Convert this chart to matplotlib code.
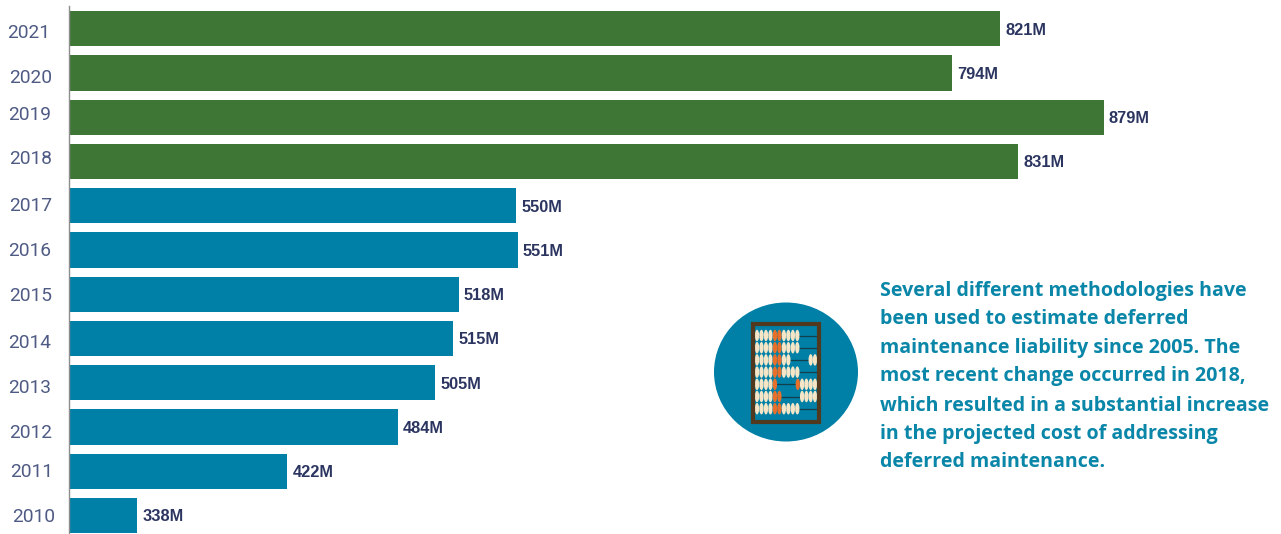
import matplotlib
matplotlib.use("Agg")
import matplotlib.pyplot as plt
from matplotlib.patches import Ellipse, Rectangle

W, H = 1281, 534
years = ["2021", "2020", "2019", "2018", "2017", "2016", "2015", "2014", "2013", "2012", "2011", "2010"]
values = [821, 794, 879, 831, 550, 551, 518, 515, 505, 484, 422, 338]
groups = ["new"] * 4 + ["old"] * 8
group_colors = {"new": "#3E7636", "old": "#0080A6"}
note_lines = [
    "Several different methodologies have",
    "been used to estimate deferred",
    "maintenance liability since 2005. The",
    "most recent change occurred in 2018,",
    "which resulted in a substantial increase",
    "in the projected cost of addressing",
    "deferred maintenance.",
]
# Hand-placed year labels in the original: (right edge px, vertical px)
year_label_x = [50, 52, 51, 52, 52, 51, 52, 51, 51, 52, 53, 55]
year_label_y = [33, 78, 115, 159, 206, 251, 296, 343, 388, 433, 472, 517]
note_y = [291, 319, 348, 376, 406, 434, 462]
# Abacus rows: left beads and right beads, c = cream, o = orange
abacus_rows = [
    ("ccccoocccc", ""),
    ("ccccoocccc", ""),
    ("ccccoocc", "cc"),
    ("ccccoocccc", ""),
    ("cccco", "occcc"),
    ("ccccoo", "cccc"),
    ("ccccoocccc", ""),
]
abacus_colors = {"c": "#F6E6C8", "o": "#E8702A"}

fig = plt.figure(figsize=(W / 100, H / 100), dpi=100, facecolor="white")

# Bar axes: rows are 44.25 px apart, value axis starts at 300
left, right = 69.0, 1200
scale = 1.787
top_row, step = 28.7, 44.25
ax = fig.add_axes([left / W, 0, (right - left) / W, (H - 6) / H])
ax.set_xlim(300, 300 + (right - left) / scale)
ax.set_ylim((H - top_row) / step, (6 - top_row) / step)
ypos = list(range(len(years)))
ax.barh(ypos, values, height=35.2 / step,
        color=[group_colors[g] for g in groups], left=0, zorder=2)
for s in ("top", "right", "bottom"):
    ax.spines[s].set_visible(False)
ax.spines["left"].set_color("#8E8E8E")
ax.spines["left"].set_linewidth(1.0)
ax.set_xticks([])
ax.set_yticks([])
for y, v in zip(ypos, values):
    ax.annotate(f"{v}M", (v, y), xytext=(3.8, -1), textcoords="offset points",
                va="center", ha="left", fontsize=11.8, fontweight="bold",
                family="Liberation Sans", color="#2B3560")

# Overlay in pixel coordinates for free text and the icon
ov = fig.add_axes([0, 0, 1, 1])
ov.set_xlim(0, W)
ov.set_ylim(H, 0)
ov.axis("off")
ov.patch.set_alpha(0)
for t, x, y in zip(years, year_label_x, year_label_y):
    ov.text(x, y, t, ha="right", va="center", fontsize=13.8, family="Roboto",
            fontweight="regular", color="#4F5B84")
for t, y in zip(note_lines, note_y):
    ov.text(880, y, t, ha="left", va="center", fontsize=14.17, family="Open Sans",
            fontweight="bold", color="#0A86A8")

ov.add_patch(Ellipse((786, 372), 144, 139, color="#0080A6", lw=0, zorder=1))
ov.add_patch(Rectangle((752.5, 324), 66.5, 97.5, fill=False, ec="#50391F", lw=3, zorder=4))
for i, (lb, rb) in enumerate(abacus_rows):
    y = 335.5 + i * 12.2
    ov.plot([754, 818], [y, y], color="#123F4C", lw=0.9, zorder=2)
    for j, c in enumerate(lb):
        ov.add_patch(Ellipse((757 + j * 4.48, y), 4.3, 11.5, fc=abacus_colors[c], lw=0, zorder=3))
    for j, c in enumerate(reversed(rb)):
        ov.add_patch(Ellipse((815 - j * 4.3, y), 4.3, 11.5, fc=abacus_colors[c], lw=0, zorder=3))

fig.savefig("out.png", dpi=100)
